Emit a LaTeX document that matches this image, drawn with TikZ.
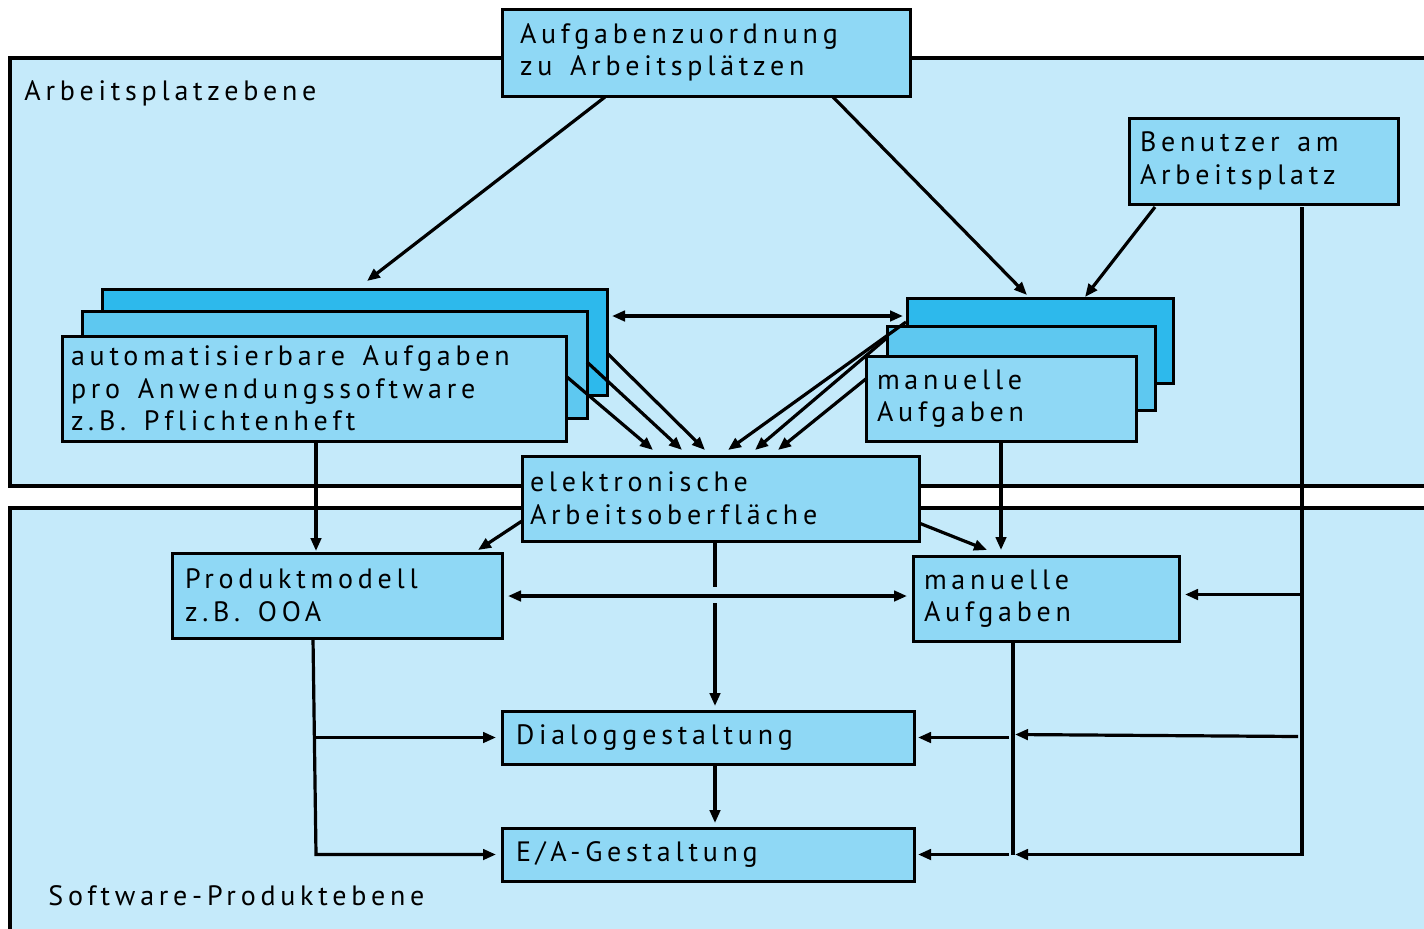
\documentclass[tikz,border=0pt]{standalone}
\usepackage{fontspec}
\setmainfont{PT Sans}[LetterSpace=17,Ligatures=NoCommon]
\usetikzlibrary{arrows.meta,calc}
\definecolor{panel}{HTML}{C5EAFA}
\definecolor{boxc}{HTML}{8FD8F5}
\definecolor{stackA}{HTML}{2DB9EC}
\definecolor{stackB}{HTML}{5EC8F0}
\newcommand{\diafont}{\fontsize{14}{16.3}\selectfont}
\newcommand{\ws}{\hspace{0.3em} }
\begin{document}
\begin{tikzpicture}[x=0.5pt,y=-0.5pt,
  box/.style={draw, line width=1.5pt, fill=boxc, anchor=north west, align=left,
    inner ysep=0pt, outer sep=0pt, font=\diafont},
  conn/.style={line width=1.6pt},
  arr/.style={conn, -{Triangle[length=6.5pt,width=5.2pt]}},
  darr/.style={conn, {Triangle[length=6.5pt,width=5.2pt]}-{Triangle[length=6.5pt,width=5.2pt]}},
  panelbox/.style={draw, line width=1.6pt, fill=panel, anchor=north west, outer sep=0pt, inner sep=0pt},
  lbl/.style={anchor=base west, inner sep=0pt, font=\diafont}]
\useasboundingbox (0,0) rectangle (1424,928);
\clip (0,0) rectangle (1424,928);
\fill[white] (0,0) rectangle (1424,928);
% panels
\node[panelbox, minimum width=715pt, minimum height=214pt] (ptop) at (10,58) {};
\node[panelbox, minimum width=715pt, minimum height=216pt] (pbot) at (10,508) {};
\node[lbl] (l1) at (24,100) {Arbeitsplatzebene};
\node[lbl] (l2) at (48,905) {Software-Produktebene};
% boxes
\node[box, minimum width=204pt, minimum height=43.5pt, text width=186pt, inner xsep=9pt] (auf) at (502,9) {Aufgabenzuordnung\\zu\ws Arbeitsplätzen};
\node[box, minimum width=134.5pt, minimum height=43pt, text width=123.5pt, inner xsep=5.5pt] (ben) at (1129,118) {Benutzer\ws am\\Arbeitsplatz};
\node[box, fill=stackA, minimum width=252.5pt, minimum height=53pt] (lsb) at (102,289) {};
\node[box, fill=stackB, minimum width=252.5pt, minimum height=53.5pt] (lsm) at (82,311) {};
\node[box, minimum width=252pt, minimum height=52.5pt, text width=243pt, inner xsep=4.5pt] (lsf) at (62,336) {automatisierbare\ws Aufgaben\\pro\ws Anwendungssoftware\\z.B.\ws Pflichtenheft};
\node[box, fill=stackA, minimum width=133pt, minimum height=42.5pt] (rsb) at (907,298) {};
\node[box, fill=stackB, minimum width=134pt, minimum height=42pt] (rsm) at (887,326) {};
\node[box, minimum width=135pt, minimum height=42.5pt, text width=124pt, inner xsep=5.5pt] (rsf) at (866,356) {manuelle\\Aufgaben};
\node[box, minimum width=198.5pt, minimum height=42.5pt, text width=190.5pt, inner xsep=4pt] (elek) at (522,456) {elektronische\\Arbeitsoberfläche};
\node[box, minimum width=165pt, minimum height=42.5pt, text width=152pt, inner xsep=6.5pt] (prod) at (172,553) {Produktmodell\\z.B.\ws OOA};
\node[box, minimum width=133pt, minimum height=42.5pt, text width=122pt, inner xsep=5.5pt] (man) at (913,556) {manuelle\\Aufgaben};
\node[box, minimum width=206pt, minimum height=26.5pt, text width=192pt, inner xsep=7pt] (dia) at (502,711) {Dialoggestaltung};
\node[box, minimum width=206pt, minimum height=26.5pt, text width=192pt, inner xsep=7pt] (ea) at (502,828) {E/A-Gestaltung};
% connectors, upper level
\draw[arr] ($(auf.south west)+(103,1)$) -- ($(lsb.north west)+(265,-8)$);
\draw[arr] ($(auf.south west)+(331,1)$) -- ($(rsb.north west)+(120,-3)$);
\draw[arr] ($(ben.south west)+(26,3)$) -- ($(rsb.north west)+(178,-1)$);
\draw[darr] ($(lsb.north east)+(5,27)$) -- ($(rsb.north west)+(-4,18)$);
\draw[arr] ($(lsb.north east)+(1,65)$) -- ($(elek.north west)+(183,-6)$);
\draw[arr] ($(lsm.north east)+(0,51)$) -- ($(elek.north west)+(160,-6)$);
\draw[arr] ($(lsf.north east)+(1,41)$) -- ($(elek.north west)+(131,-6)$);
\draw[arr] ($(rsb.north west)+(-1,24)$) -- ($(elek.north west)+(206,-6)$);
\draw[arr] ($(rsm.north west)+(1,11)$) -- ($(elek.north west)+(233,-6)$);
\draw[arr] ($(rsf.north west)+(1,22)$) -- ($(elek.north west)+(256,-6)$);
% connectors, lower level
\draw[arr] ($(lsf.south west)+(254,0)$) -- ($(prod.north west)+(144,-2)$);
\draw[arr] ($(elek.south west)+(0,-20)$) -- ($(prod.north east)+(-24,-3)$);
\draw[arr] ($(elek.south east)+(0,-18)$) -- ($(man.north west)+(74,-6)$);
\draw[arr] ($(rsf.south west)+(135,0)$) -- ($(man.north west)+(88,-6)$);
\draw[darr] ($(prod.north east)+(6,43)$) -- ($(man.north west)+(-6,40)$);
\draw[conn] ($(elek.south west)+(193,0)$) -- ($(elek.south west)+(193,46)$);
\draw[arr] ($(elek.south west)+(193,62)$) -- ($(dia.north west)+(213,-5)$);
\draw[arr] ($(dia.south west)+(213,0)$) -- ($(ea.north west)+(213,-5)$);
\draw[arr] ($(prod.south west)+(141,0)$) -- ($(ea.west)+(-186,0)$) -- ($(ea.west)+(-6,0)$);
\draw[arr] ($(dia.west)+(-186,0)$) -- ($(dia.west)+(-6,0)$);
\draw[conn] ($(man.south west)+(100,0)$) -- ($(ea.east)+(99,0)$);
\draw[arr] ($(dia.east)+(95,0)$) -- ($(dia.east)+(4,0)$);
\draw[arr] ($(ea.east)+(95,0)$) -- ($(ea.east)+(4,0)$);
\draw[arr] ($(ben.south west)+(173,3)$) -- ($(ea.east)+(388,0)$) -- ($(ea.east)+(101,0)$);
\draw[arr] ($(man.east)+(123,-4)$) -- ($(man.east)+(6,-4)$);
\draw[arr] ($(dia.east)+(384,-1)$) -- ($(dia.east)+(101,-3)$);
\end{tikzpicture}
\end{document}
